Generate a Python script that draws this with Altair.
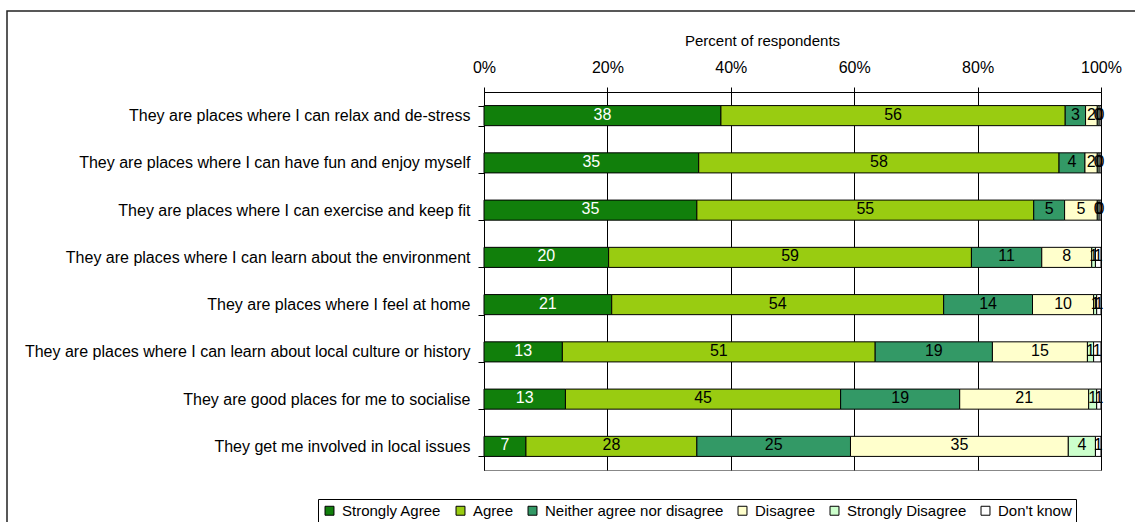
import altair as alt
import pandas as pd

statements = [
    "They are places where I can relax and de-stress",
    "They are places where I can have fun and enjoy myself",
    "They are places where I can exercise and keep fit",
    "They are places where I can learn about the environment",
    "They are places where I feel at home",
    "They are places where I can learn about local culture or history",
    "They are good places for me to socialise",
    "They get me involved in local issues",
]
responses = ["Strongly Agree", "Agree", "Neither agree nor disagree",
             "Disagree", "Strongly Disagree", "Don't know"]
colors = ["#117F0B", "#99CC11", "#339966", "#FFFFCC", "#CCFFCC", "#FFFFFF"]

strongly_agree = [38.4, 34.8, 34.5, 20.2, 20.7, 12.7, 13.2, 6.8]
agree = [55.8, 58.4, 54.6, 58.8, 53.8, 50.7, 44.6, 27.7]
neither = [3.3, 4.2, 5.0, 11.4, 14.4, 19.0, 19.3, 24.9]
disagree = [1.9, 2.0, 5.3, 8.1, 9.9, 15.4, 20.9, 35.3]
strongly_disagree = [0.3, 0.3, 0.3, 0.6, 0.5, 1.0, 1.3, 4.4]
dont_know = [0.3, 0.3, 0.3, 0.9, 0.7, 1.2, 0.7, 0.9]

series = [strongly_agree, agree, neither, disagree, strongly_disagree, dont_know]
rows = []
for ri, (resp, vals) in enumerate(zip(responses, series)):
    for s, v in zip(statements, vals):
        rows.append({"statement": s, "response": resp, "order": ri, "value": v})
df = pd.DataFrame(rows)

FONT = "Liberation Sans"

base = alt.Chart(df).transform_stack(
    stack="value", groupby=["statement"], as_=["x0", "x1"],
    sort=[alt.SortField("order")], offset="normalize"
).transform_calculate(mid="(datum.x0 + datum.x1) / 2")

yenc = alt.Y("statement:N", sort=statements, title=None,
             scale=alt.Scale(paddingInner=0.575, paddingOuter=0.2875),
             axis=alt.Axis(orient="left", domainColor="black", tickColor="black",
                           tickBand="extent", tickSize=6, labelPadding=8,
                           labelFont=FONT, labelFontSize=16, labelColor="black",
                           labelLimit=700))

bars = base.mark_bar(stroke="black", strokeWidth=1).encode(
    x=alt.X("x0:Q", scale=alt.Scale(domain=[0, 1]), title="Percent of respondents",
            axis=alt.Axis(orient="top", format="%", values=[0, 0.2, 0.4, 0.6, 0.8, 1.0],
                          grid=True, gridColor="black", gridWidth=1,
                          domainColor="black", tickColor="black", tickSize=5,
                          labelFont=FONT, labelFontSize=16, labelColor="black",
                          labelPadding=12, labelFlush=False,
                          titleFont=FONT, titleFontSize=15, titleFontWeight="normal",
                          titleColor="black", titleX=278, titleY=-52,
                          titleBaseline="middle", titleAnchor="start", titleAlign="center")),
    x2="x1:Q",
    y=yenc,
    fill=alt.Fill("response:N", sort=responses,
                  scale=alt.Scale(domain=responses, range=colors),
                  legend=alt.Legend(title=None, orient="none", legendX=-166, legendY=407,
                                    direction="horizontal", columns=6,
                                    symbolType="square", symbolSize=80,
                                    symbolStrokeColor="black", symbolStrokeWidth=1,
                                    labelFont=FONT, labelFontSize=15, labelColor="black",
                                    labelLimit=400,
                                    columnPadding=11, labelOffset=5,
                                    strokeColor="black", fillColor="white", padding=4)),
)

labels = base.mark_text(font=FONT, fontSize=16, baseline="middle", align="center", dy=-1).encode(
    x=alt.X("mid:Q"),
    y=alt.Y("statement:N", sort=statements),
    text=alt.Text("value:Q", format=".0f"),
    color=alt.condition(alt.datum.response == "Strongly Agree",
                        alt.value("white"), alt.value("black")),
)

frame = alt.Chart(alt.Data(values=[{}])).mark_rect(
    fill=None, stroke="#222222", strokeWidth=1.5
).encode(x=alt.value(-477), x2=alt.value(700), y=alt.value(-81), y2=alt.value(500))

chart = alt.layer(frame, bars, labels).properties(
    width=617, height=378,
    padding={"left": 484, "top": 92, "right": 34, "bottom": 52},
    autosize=alt.AutoSizeParams(type="none"),
    background="white",
).configure_view(stroke="#888888", strokeWidth=1)

chart.save("out.html", embed_options={"renderer": "svg", "actions": False})
